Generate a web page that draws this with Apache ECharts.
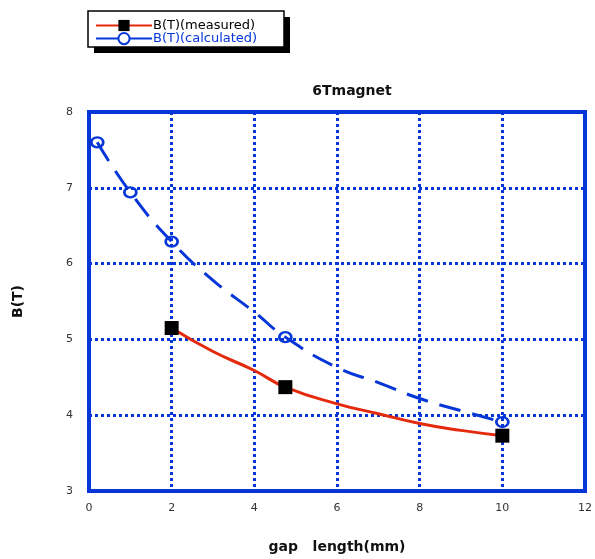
<!DOCTYPE html>
<html>
<head>
<meta charset="utf-8">
<script src="https://cdn.jsdelivr.net/npm/echarts@6/dist/echarts.min.js"></script>
<style>
  html, body { margin: 0; padding: 0; background: #fff; }
  #chart { width: 595px; height: 559px; }
</style>
</head>
<body>
<div id="chart"></div>
<script>
// measured curve
const measX = [2, 3, 4, 4.75, 6, 7, 8, 9, 10]
const measY = [5.15, 4.84, 4.59, 4.37, 4.15, 4.02, 3.89, 3.80, 3.73]
const measMarks = [2, 4.75, 10]

// calculated curve
const calcX = [0.2, 1, 2, 3, 4, 4.75, 6, 7, 8, 9, 10]
const calcY = [7.6, 6.94, 6.29, 5.78, 5.36, 5.03, 4.63, 4.43, 4.22, 4.06, 3.91]
const calcMarks = [0.2, 1, 2, 4.75, 10]

const blue = '#0636d8'
const red = '#e42a0c'
const font = 'DejaVu Sans'

const toData = (xs, ys, marks) => xs.map((x, i) => ({
    value: [x, ys[i]],
    symbol: marks.includes(x) ? undefined : 'none',
}))

const chart = echarts.init(document.getElementById('chart'))

const option = {
    animation: false,
    title: {
        text: '6Tmagnet',
        left: 347,
        top: 79,
        textAlign: 'center',
        textStyle: { fontFamily: font, fontSize: 14, fontWeight: 'bold', color: '#111' },
    },
    graphic: [
        { type: 'rect', shape: { x: 94, y: 17, width: 196, height: 36 }, style: { fill: '#000' }, z: 1 },
        { type: 'rect', shape: { x: 88, y: 11, width: 196, height: 36 }, style: { fill: '#fff', stroke: '#000', lineWidth: 1.5 }, z: 2 },
    ],
    legend: {
        left: 90,
        top: 14,
        orient: 'vertical',
        itemGap: 0,
        itemWidth: 56,
        itemHeight: 14,
        z: 10,
        textStyle: { fontFamily: font, fontSize: 13, padding: [0, 0, 0, -4] },
        data: [
            { name: 'B(T)(measured)', textStyle: { color: '#000' } },
            { name: 'B(T)(calculated)', textStyle: { color: blue } },
        ],
    },
    grid: {
        left: 89,
        right: 6,
        top: 112,
        bottom: 66,
        show: true,
        borderColor: blue,
        borderWidth: 4,
    },
    xAxis: {
        type: 'value',
        min: 0,
        max: 12,
        interval: 2,
        name: 'gap   length(mm)',
        nameLocation: 'middle',
        nameGap: 49,
        nameTextStyle: { fontFamily: font, fontSize: 14, fontWeight: 'bold', color: '#111' },
        axisLine: { show: false },
        axisTick: { show: false },
        axisLabel: { fontFamily: font, fontSize: 11, color: '#333', margin: 12 },
        splitLine: { lineStyle: { color: blue, width: 3, type: [3, 3] } },
    },
    yAxis: {
        type: 'value',
        min: 3,
        max: 8,
        interval: 1,
        name: 'B(T)',
        nameLocation: 'middle',
        nameGap: 64,
        nameTextStyle: { fontFamily: font, fontSize: 14, fontWeight: 'bold', color: '#111' },
        axisLine: { show: false },
        axisTick: { show: false },
        axisLabel: { fontFamily: font, fontSize: 11, color: '#333', margin: 16 },
        splitLine: { lineStyle: { color: blue, width: 3, type: [3, 3] } },
    },
    series: [
        {
            name: 'B(T)(measured)',
            type: 'line',
            smooth: true,
            symbol: 'rect',
            symbolSize: 14,
            itemStyle: { color: '#000' },
            lineStyle: { color: red, width: 3 },
            data: toData(measX, measY, measMarks),
            z: 4,
        },
        {
            name: 'B(T)(calculated)',
            type: 'line',
            smooth: true,
            symbol: 'circle',
            symbolSize: [12, 10],
            itemStyle: { color: 'rgba(255,255,255,0)', borderWidth: 2.5, borderColor: blue },
            lineStyle: { color: blue, width: 3, type: [22, 12] },
            data: toData(calcX, calcY, calcMarks),
            z: 3,
        },
    ],
}

chart.setOption(option)
</script>
</body>
</html>
